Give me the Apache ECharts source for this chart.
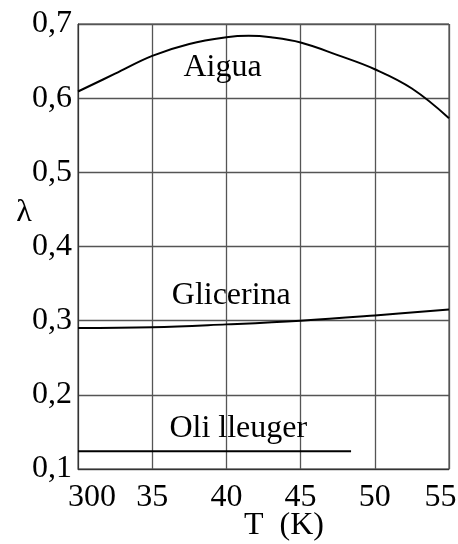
<!DOCTYPE html>
<html>
<head>
<meta charset="utf-8">
<script src="https://cdn.jsdelivr.net/npm/echarts@6/dist/echarts.min.js"></script>
<style>html,body{margin:0;padding:0;background:#fff}#c{width:458px;height:544px}</style>
</head>
<body>
<div id="c"></div>
<script>
// Data
const xTickLabels = ['300', '35', '40', '45', '50', '55'];
const yTickLabels = ['0,1', '0,2', '0,3', '0,4', '0,5', '0,6', '0,7'];

const aiguaT = [30, 32.5, 35, 37.5, 40, 41.5, 43, 45, 47.5, 50, 52.5, 55];
const aiguaL = [0.609, 0.633, 0.657, 0.673, 0.682, 0.684, 0.682, 0.675, 0.658, 0.639, 0.613, 0.573];

const glicT = [30, 35, 40, 45, 50, 55];
const glicL = [0.290, 0.291, 0.295, 0.300, 0.307, 0.315];

const oliT = [30, 48.4];
const oliL = [0.124, 0.124];

const labelNames = ['Aigua', 'Glicerina', 'Oli lleuger'];
const labelT = [39.74, 40.33, 40.80];
const labelL = [0.6407, 0.3333, 0.1542];

const xName = 'T  (K)';
const yName = 'λ';

const FONT = 'Liberation Serif';
const FONT_CSS = '32px "Liberation Serif"';
const pair = (a, b) => a.map((v, i) => [v, b[i]]);

const chart = echarts.init(document.getElementById('c'), null, {renderer: 'canvas'});
chart.setOption({
  animation: false,
  backgroundColor: '#fff',
  grid: {left: 78, right: 9, top: 24, bottom: 75, show: true, borderColor: '#333', borderWidth: 1,
         containLabel: false, outerBoundsMode: 'none'},
  graphic: [
    {type: 'text', x: 24, y: 213, silent: true,
     style: {text: yName, font: FONT_CSS, fill: '#000', align: 'center', verticalAlign: 'middle'}},
    {type: 'text', x: 284, y: 526, silent: true,
     style: {text: xName, font: FONT_CSS, fill: '#000', align: 'center', verticalAlign: 'middle'}}
  ],
  xAxis: {
    type: 'value', min: 30, max: 55, interval: 5,
    axisLine: {show: true, lineStyle: {color: '#333', width: 1}},
    axisTick: {show: false},
    splitLine: {show: true, lineStyle: {color: '#555', width: 1.3}},
    axisLabel: {
      margin: 13, fontFamily: FONT, fontSize: 32, color: '#000',
      formatter: function (v) {
        const i = Math.round((v - 30) / 5);
        const t = xTickLabels[i];
        if (i === 0) return '{f|' + t + '}';
        if (i === xTickLabels.length - 1) return '{l|' + t + '}';
        return t;
      },
      rich: {
        f: {fontFamily: FONT, fontSize: 32, color: '#000', padding: [0, 0, 0, 28]},
        l: {fontFamily: FONT, fontSize: 32, color: '#000', padding: [0, 17, 0, 0]}
      }
    }
  },
  yAxis: {
    type: 'value', min: 0.1, max: 0.7, interval: 0.1,
    axisLine: {show: true, lineStyle: {color: '#333', width: 1}},
    axisTick: {show: false},
    splitLine: {show: true, lineStyle: {color: '#555', width: 1.3}},
    axisLabel: {
      margin: 6, fontFamily: FONT, fontSize: 32, color: '#000',
      formatter: function (v) { return yTickLabels[Math.round((v - 0.1) * 10)]; }
    }
  },
  series: [
    {type: 'line', data: pair(aiguaT, aiguaL), smooth: 0.4, showSymbol: false, lineStyle: {color: '#000', width: 2}},
    {type: 'line', data: pair(glicT, glicL), smooth: 0.4, showSymbol: false, lineStyle: {color: '#000', width: 2}},
    {type: 'line', data: pair(oliT, oliL), showSymbol: false, lineStyle: {color: '#000', width: 2}},
    {
      type: 'scatter', symbolSize: 0, silent: true, itemStyle: {opacity: 1},
      data: labelNames.map((n, i) => ({value: [labelT[i], labelL[i]], name: n})),
      label: {show: true, position: 'inside', formatter: '{b}', fontFamily: FONT, fontSize: 32, color: '#000'}
    }
  ]
});
</script>
</body>
</html>
